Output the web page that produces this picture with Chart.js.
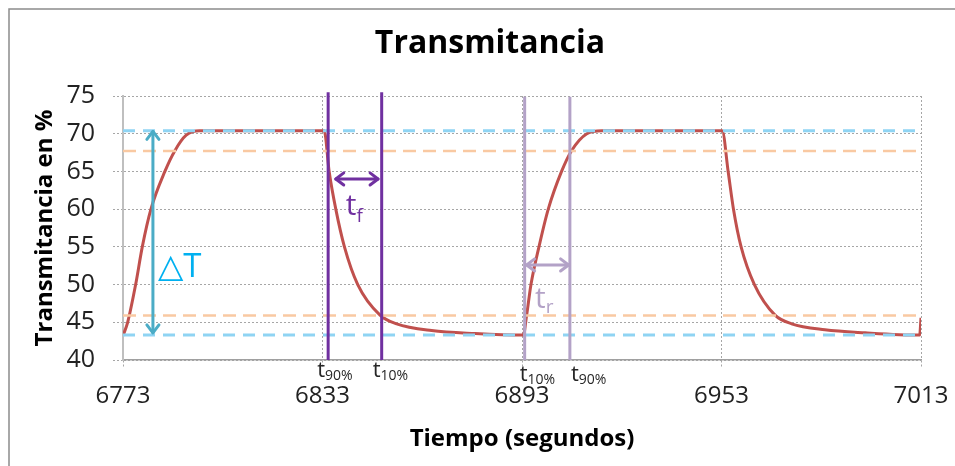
<!DOCTYPE html>
<html>
<head>
<meta charset="utf-8">
<script src="https://cdn.jsdelivr.net/npm/chart.js@4.4.1/dist/chart.umd.min.js"></script>
<style>
  html, body { margin: 0; padding: 0; background: #fff; }
</style>
</head>
<body>
<canvas id="grafica" width="955" height="466"></canvas>
<script>
// curva (tiempo en s, transmitancia en %)
const tiempo = [6773, 6774.4, 6776.8, 6778.8, 6781.4, 6785.6, 6788.6, 6792, 6796,
  6833.5, 6835, 6837, 6839.6, 6843.6, 6850.3, 6855.3, 6865.8, 6878.9, 6893.4,
  6894.4, 6895.7, 6898.1, 6900.9, 6904.9, 6907.9, 6912.5, 6917,
  6953.2, 6955, 6956.6, 6958.9, 6962.9, 6969.1, 6974.1, 6984.1, 6996.2, 7012.6, 7013];
const transmitancia = [43.2, 45, 50, 55, 60, 65, 67.75, 69.8, 70.4,
  70.4, 65, 60, 55, 50, 45.95, 44.8, 43.9, 43.5, 43.3,
  45.95, 50, 55, 60, 65, 67.75, 70, 70.4,
  70.4, 65, 60, 55, 50, 45.95, 44.8, 44.0, 43.6, 43.3, 45.6];

const xTicks = [6773, 6833, 6893, 6953, 7013];
const yTicks = [40, 45, 50, 55, 60, 65, 70, 75];

// niveles de referencia
const niveles = [70.4, 43.3];      // maximo y minimo
const niveles1090 = [67.7, 45.9];  // 90% y 10%

// tiempos marcados
const tBajada = [6834.7, 6850.8];  // t90%, t10%
const tSubida = [6893.8, 6907.4];  // t10%, t90%
const subBajada = ['90%', '10%'];
const subSubida = ['10%', '90%'];

// flechas
const xDeltaT = 6782;
const yDeltaT = [43.6, 70.3];
const xTf = [6837, 6849.7];
const yTf = 64;
const xTr = [6894.4, 6907];
const yTr = 52.6;

const rojo = '#C0504D';
const morado = '#7030A0';
const lila = '#B3A2C7';

function linea(x0, x1, y0, y1) {
  return [{x: x0, y: y0}, {x: x1, y: y1}];
}

function flecha(ctx, x1, y1, x2, y2, color) {
  const ang = Math.atan2(y2 - y1, x2 - x1), h = 10;
  ctx.strokeStyle = color;
  ctx.lineWidth = 3;
  ctx.lineCap = 'round';
  ctx.lineJoin = 'round';
  ctx.beginPath(); ctx.moveTo(x1, y1); ctx.lineTo(x2, y2); ctx.stroke();
  [[x1, y1, ang + Math.PI], [x2, y2, ang]].forEach(([px, py, a]) => {
    ctx.beginPath();
    ctx.moveTo(px - h * Math.cos(a - 0.65), py - h * Math.sin(a - 0.65));
    ctx.lineTo(px, py);
    ctx.lineTo(px - h * Math.cos(a + 0.65), py - h * Math.sin(a + 0.65));
    ctx.stroke();
  });
}

function conSub(ctx, base, sub, x, y, fBase, fSub, dy, color) {
  ctx.fillStyle = color;
  ctx.textAlign = 'left';
  ctx.textBaseline = 'alphabetic';
  ctx.font = fBase;
  ctx.fillText(base, x, y);
  const w = ctx.measureText(base).width;
  ctx.font = fSub;
  ctx.fillText(sub, x + w, y + dy);
}

const marco = {
  id: 'marco',
  beforeDraw(chart) {
    const ctx = chart.ctx;
    ctx.save();
    ctx.strokeStyle = '#8C8C8C';
    ctx.lineWidth = 1.5;
    ctx.strokeRect(9, 9, 2000, 2000);
    // titulo
    ctx.fillStyle = '#000';
    ctx.font = 'bold 32px "Open Sans"';
    ctx.textAlign = 'center';
    ctx.textBaseline = 'middle';
    ctx.fillText('Transmitancia', 490, 44);
    ctx.restore();
  }
};

const anotaciones = {
  id: 'anotaciones',
  afterDraw(chart) {
    const {ctx, scales: {x, y}} = chart;
    ctx.save();
    // delta T
    const xd = x.getPixelForValue(xDeltaT);
    flecha(ctx, xd, y.getPixelForValue(yDeltaT[1]), xd, y.getPixelForValue(yDeltaT[0]), '#4BACC6');
    ctx.fillStyle = '#00B0F0';
    ctx.font = '33px "Open Sans", "DejaVu Sans"';
    ctx.textBaseline = 'alphabetic';
    ctx.textAlign = 'left';
    ctx.fillText('\u25B3T', xd + 5, y.getPixelForValue(51));
    // t_f
    flecha(ctx, x.getPixelForValue(xTf[0]), y.getPixelForValue(yTf), x.getPixelForValue(xTf[1]), y.getPixelForValue(yTf), morado);
    conSub(ctx, 't', 'f', x.getPixelForValue(6840), y.getPixelForValue(59.2),
      '30px "Open Sans"', '19px "Open Sans"', 7, morado);
    // t_r
    flecha(ctx, x.getPixelForValue(xTr[0]), y.getPixelForValue(yTr), x.getPixelForValue(xTr[1]), y.getPixelForValue(yTr), lila);
    conSub(ctx, 't', 'r', x.getPixelForValue(6896.9), y.getPixelForValue(46.9),
      '30px "Open Sans"', '19px "Open Sans"', 5, lila);
    // etiquetas bajo el eje
    const base = y.getPixelForValue(40);
    const dx = [-11, -9, -5, 1];
    const todos = tBajada.concat(tSubida);
    const subs = subBajada.concat(subSubida);
    todos.forEach((t, i) => {
      const dy = i < 2 ? 17 : 21;
      conSub(ctx, 't', subs[i], x.getPixelForValue(t) + dx[i], base + dy,
        '22px "Open Sans"', '14px "Open Sans"', 3, '#262626');
    });
    ctx.restore();
  }
};

const rejilla = {
  color: '#A6A6A6',
  lineWidth: 1,
  tickBorderDash: [2, 2],
  tickColor: '#A6A6A6'
};

new Chart(document.getElementById('grafica'), {
  type: 'scatter',
  data: {
    datasets: [
      {
        data: tiempo.map((t, i) => ({x: t, y: transmitancia[i]})),
        showLine: true, borderColor: rojo, borderWidth: 3, pointRadius: 0,
        cubicInterpolationMode: 'monotone', order: 3
      },
      ...niveles.map(v => ({
        data: linea(xTicks[0], xTicks[4], v, v), showLine: true, borderColor: '#8FD4F3',
        borderWidth: 3, borderDash: [12, 8], pointRadius: 0, order: 2
      })),
      ...niveles1090.map(v => ({
        data: linea(xTicks[0], xTicks[4], v, v), showLine: true, borderColor: '#F9C9A2',
        borderWidth: 2.5, borderDash: [13, 7], pointRadius: 0, order: 2
      })),
      ...tBajada.map(t => ({
        data: linea(t, t, 40, 75.5), showLine: true, borderColor: morado,
        borderWidth: 3, pointRadius: 0, clip: false, order: 1
      })),
      ...tSubida.map(t => ({
        data: linea(t, t, 40, 74.9), showLine: true, borderColor: lila,
        borderWidth: 3, pointRadius: 0, clip: false, order: 1
      }))
    ]
  },
  options: {
    responsive: false,
    devicePixelRatio: 1,
    animation: false,
    events: [],
    layout: { padding: { top: 96, right: 34, bottom: 0, left: 0 } },
    plugins: {
      legend: { display: false },
      tooltip: { enabled: false },
      title: { display: false }
    },
    scales: {
      x: {
        type: 'linear',
        min: 6773,
        max: 7013,
        afterBuildTicks: s => { s.ticks = xTicks.map(v => ({value: v})); },
        afterFit: s => { s.height = 106; s.paddingRight = 30; s.paddingLeft = 30; },
        ticks: { color: '#222', font: { family: 'Open Sans', size: 24 }, padding: 14,
          callback: v => String(v) },
        grid: Object.assign({ tickLength: 8 }, rejilla),
        border: { color: '#A0A0A0', width: 1.5, dash: [2, 2] },
        title: {
          display: true,
          text: 'Tiempo (segundos)',
          color: '#000',
          font: { family: 'Open Sans', size: 24, weight: 'bold' },
          padding: { top: 0, bottom: 12 }
        }
      },
      y: {
        min: 40,
        max: 75,
        afterBuildTicks: s => { s.ticks = yTicks.map(v => ({value: v})); },
        afterFit: s => { s.width = 123; },
        ticks: { color: '#222', font: { family: 'Open Sans', size: 25 }, padding: 18,
          callback: v => String(v) },
        grid: Object.assign({ tickLength: 10 }, rejilla),
        border: { color: '#BFBFBF', width: 2, dash: [2, 2] },
        title: {
          display: true,
          text: 'Transmitancia en %',
          color: '#000',
          font: { family: 'Open Sans', size: 24, weight: 'bold' },
          padding: { top: 31, bottom: 0 }
        }
      }
    }
  },
  plugins: [marco, anotaciones]
});
</script>
</body>
</html>
